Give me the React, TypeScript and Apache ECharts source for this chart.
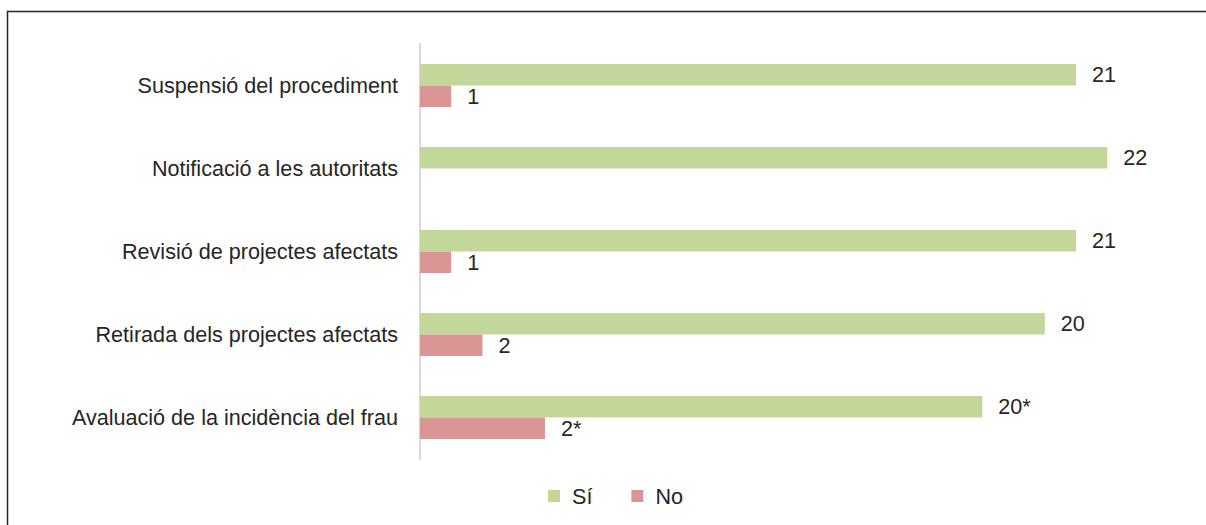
import React, { useEffect, useRef } from "react";
import * as echarts from "echarts";

const categories = [
  "Suspensió del procediment",
  "Notificació a les autoritats",
  "Revisió de projectes afectats",
  "Retirada dels projectes afectats",
  "Avaluació de la incidència del frau",
];
// bar lengths as drawn
const siValues = [21, 22, 21, 20, 18];
const noValues: (number | null)[] = [1, null, 1, 2, 4];
// value labels as printed
const siLabels = ["21", "22", "21", "20", "20*"];
const noLabels = ["1", "", "1", "2", "2*"];

const FONT = "Liberation Sans";
const FS = 21.6;

export default function App() {
  const ref = useRef<HTMLDivElement>(null);
  useEffect(() => {
    const chart = echarts.init(ref.current!, null, { renderer: "svg" });
    chart.setOption({
      animation: false,
      textStyle: { fontFamily: FONT },
      grid: { left: 420, right: 5, top: 44, bottom: 66 },
      xAxis: {
        type: "value",
        min: 0,
        max: 25,
        show: false,
      },
      yAxis: {
        type: "category",
        data: categories,
        inverse: true,
        axisLine: { show: true, lineStyle: { color: "#d9d9d9", width: 2 } },
        axisTick: { show: false },
        axisLabel: { color: "#262626", fontSize: FS, margin: 22, fontFamily: FONT },
      },
      legend: {
        top: 480,
        left: 543,
        icon: "rect",
        itemWidth: 12,
        itemHeight: 12,
        itemGap: 39,
        textStyle: {
          color: "#262626",
          fontSize: FS,
          fontFamily: FONT,
          padding: [0, 0, 0, 7],
        },
        data: ["Sí", "No"],
      },
      series: [
        {
          name: "Sí",
          type: "bar",
          data: siValues,
          barWidth: 21.5,
          barGap: "0%",
          itemStyle: { color: "#c4d79b" },
          label: {
            show: true,
            position: "right",
            distance: 16,
            color: "#262626",
            fontSize: FS,
            fontFamily: FONT,
            formatter: (p: any) => siLabels[p.dataIndex],
          },
        },
        {
          name: "No",
          type: "bar",
          data: noValues,
          barWidth: 21.5,
          barGap: "0%",
          itemStyle: { color: "#da9694" },
          label: {
            show: true,
            position: "right",
            distance: 16,
            color: "#262626",
            fontSize: FS,
            fontFamily: FONT,
            formatter: (p: any) => noLabels[p.dataIndex],
          },
        },
      ],
      graphic: [
        {
          type: "rect",
          shape: { x: 7.5, y: 11.5, width: 1400, height: 700 },
          style: { fill: "none", stroke: "#262626", lineWidth: 1.5 },
          silent: true,
        },
      ],
    });
    return () => chart.dispose();
  }, []);
  return (
    <div
      ref={ref}
      style={{ position: "absolute", left: 0, top: 0, width: 1206, height: 525 }}
    />
  );
}
